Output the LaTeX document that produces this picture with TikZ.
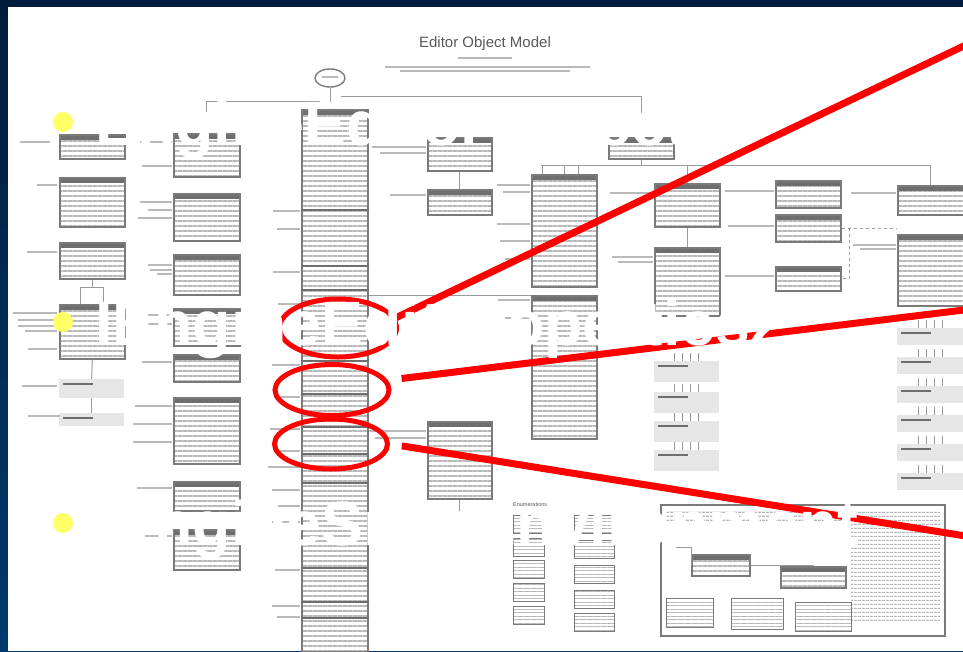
\documentclass[tikz,border=0pt]{standalone}
\usepackage{fontspec}
\setmainfont{Liberation Sans}
\usetikzlibrary{shapes.geometric, patterns.meta, positioning, calc}
\definecolor{SlideNavyTop}{HTML}{001C3C}
\definecolor{SlideNavyBottom}{HTML}{003A6C}
\definecolor{BulletYellow}{HTML}{FFFF66}
\definecolor{AlertRed}{HTML}{FF0000}
\definecolor{FrameGray}{HTML}{7A7A7A}
\definecolor{StripeGray}{HTML}{B8B8B8}
\definecolor{HeadGray}{HTML}{6E6E6E}
\definecolor{NoteGray}{HTML}{E6E6E6}
\definecolor{WireGray}{HTML}{9A9A9A}
\tikzset{
    classbox/.style={
        draw=FrameGray,
        line width=1.6pt,
        anchor=north west,
        inner sep=0pt,
        preaction={fill=white},
        pattern={Lines[angle=0,distance=5pt,line width=1.4pt]},
        pattern color=StripeGray,
        path picture={\fill[HeadGray] (path picture bounding box.north west) rectangle ([yshift=-5pt]path picture bounding box.north east);}
    },
    notebox/.style={
        fill=NoteGray,
        anchor=north west,
        inner sep=0pt,
        path picture={\draw[HeadGray, line width=1.5pt] ([shift={(4pt,-5pt)}]path picture bounding box.north west) -- ++(30pt,0pt);}
    },
    enumbox/.style={
        draw=FrameGray,
        line width=0.8pt,
        anchor=north west,
        inner sep=0pt,
        pattern={Lines[angle=0,distance=3.5pt,line width=1pt]},
        pattern color=StripeGray
    },
    textblock/.style={
        anchor=north west,
        inner sep=0pt,
        pattern={Lines[angle=0,distance=4pt,line width=1.2pt]},
        pattern color=StripeGray
    },
    smudge/.style={
        draw=gray!55,
        line width=2pt
    },
    divider/.style={
        draw=HeadGray,
        line width=2pt
    },
    wire/.style={
        draw=WireGray,
        line width=1pt
    },
    ring/.style={
        ellipse,
        draw=AlertRed,
        line width=5pt,
        inner sep=0pt
    },
    pointer/.style={
        draw=AlertRed,
        line width=7pt
    },
    dot/.style={
        circle,
        fill=BulletYellow,
        minimum size=20pt,
        inner sep=0pt
    },
    bullettext/.style={
        text=white,
        font=\fontsize{62.7}{70}\selectfont\bfseries,
        anchor=base west,
        inner sep=0pt
    }
}
\begin{document}
\begin{tikzpicture}[x=1pt, y=-1pt]
        \useasboundingbox (0,0) rectangle (963,651);
        % Slide backdrop
        \shade[top color=SlideNavyTop, bottom color=SlideNavyBottom] (0,0) rectangle (963,651);
        \fill[white] (8,7) rectangle (963,651);

        % Poster heading
        \node[font=\fontsize{15}{16}\selectfont, text=gray!70!black] (title) at (485,44) {Editor Object Model};
        \draw[smudge, line width=1.6pt] (458,58) -- (512,58);
        \draw[smudge, line width=1.2pt] (385,67) -- (590,67);
        \draw[smudge, line width=1.2pt] (400,71) -- (570,71);
        \node[ellipse, draw=FrameGray, line width=1.4pt, minimum width=30pt, minimum height=18pt, inner sep=0pt] (root) at (330,78) {};
        \draw[smudge, line width=1.5pt] (322,77) -- (338,77);

        % Class boxes
        \foreach \nm/\xx/\yy/\ww/\hh in {
            colA1/59/134/65/24, colA2/59/177/65/49, colA3/59/242/65/36, colA4/59/304/65/54,
            colB1/173/133/66/43, colB2/173/193/66/47, colB3/173/254/66/40, colB4/173/308/66/37,
            colB5/173/354/66/27, colB6/173/397/66/66, colB7/173/481/66/29, colB8/173/529/66/40,
            colC/301/109/66/542,
            colD1/427/137/64/33, colD2/427/189/64/25, colD3/427/421/64/77,
            colE1/608/137/65/21,
            colF1/531/174/65/112, colF2/531/295/65/143,
            colG1/654/183/65/43, colG2/654/247/65/68,
            colH1/775/180/65/27, colH2/775/214/65/27, colH3/775/266/65/24,
            colI1/897/185/66/29, colI2/897/234/66/71}
            \node[classbox, minimum width=\ww pt, minimum height=\hh pt] (\nm) at (\xx,\yy) {};

        % Note boxes
        \foreach \nm/\xx/\yy/\ww/\hh in {
            noteA5/59/379/65/19, noteA6/59/413/65/13,
            noteG3/654/361/65/21, noteG4/654/392/65/21, noteG5/654/421/65/21, noteG6/654/450/65/21,
            noteI3/897/328/66/17, noteI4/897/357/66/17, noteI5/897/386/66/17,
            noteI6/897/415/66/17, noteI7/897/444/66/17, noteI8/897/473/66/17}
            \node[notebox, minimum width=\ww pt, minimum height=\hh pt] (\nm) at (\xx,\yy) {};

        % Main column sections
        \foreach \yy in {210,266,290,361,394,427,454,483,568,602,618}
            \draw[divider] (colC.west |- 0,\yy) -- (colC.east |- 0,\yy);

        % Member labels
        \foreach \xa/\xb/\yy in {
            20/50/142, 37/57/185, 27/57/252, 13/57/313, 18/57/320, 18/57/326, 25/57/331, 28/57/349,
            22/57/386, 28/60/416,
            140/172/142, 142/172/166, 140/172/202, 148/172/210, 138/172/218, 148/172/265, 150/172/270,
            157/172/274, 148/172/315, 143/172/324, 142/172/362, 135/172/406, 133/172/424, 133/172/442,
            137/172/488, 145/172/536,
            273/300/211, 277/300/229, 273/300/272, 278/300/304, 272/300/365, 274/300/397, 270/300/429,
            276/300/451, 268/300/467, 272/300/490, 278/300/506, 272/300/522, 275/300/570, 272/300/606,
            277/300/617,
            372/426/147, 380/426/153, 390/426/195, 369/426/431, 375/426/438,
            497/530/185, 503/530/192, 497/530/224, 500/530/241, 505/530/259, 498/530/300, 505/530/318,
            610/653/193, 612/653/257, 618/653/262,
            725/774/191, 728/774/226, 725/774/276,
            851/896/193, 853/896/245, 860/896/249}
            \draw[smudge] (\xa,\yy) -- (\xb,\yy);

        % Hierarchy wires
        \coordinate (forkL) at (320,101);
        \coordinate (forkR) at (341,96);
        \coordinate (busL) at (541,165);
        \draw[wire] (root.south) -- (colC.north -| root.south);
        \draw[wire] (colB1.north) |- (forkL);
        \draw[wire] (forkR) -| (colE1.north);
        \draw[wire] (colE1.south) -- (colE1.south |- busL);
        \draw[wire] (busL) -| (colI1.north);
        \draw[wire] (colG1.north |- busL) -- (colG1.north);
        \foreach \dx in {-22,0,14}
            \draw[wire] ([xshift=\dx pt]colF1.north) -- ++(0,-9);
        \draw[wire] (colG1.south) -- (colG2.north);
        \draw[wire] (colD1.south) -- (colD2.north);
        \draw[wire] (colD3.south) -- ++(0,17);
        \draw[wire] (colC.east |- colF2.north) -- (colF2.north west);
        \draw[wire] (colA3.south) ++(0,8) -| ([xshift=-12pt]colA4.north);
        \draw[wire] (colA3.south) -- ++(0,8) -| ([xshift=11pt]colA4.north);
        \draw[wire] (colA4.south) -- (noteA5.north);
        \draw[wire] (noteA5.south) -- (noteA6.north);
        \draw[wire, dashed] ([xshift=8pt]colH2.east) |- (colH3.east);
        \draw[wire, dashed] (colH2.east) -- (colH2.east -| colI1.west);
        \foreach \nm in {noteG3,noteG4,noteG5,noteG6,noteI3,noteI4,noteI5,noteI6,noteI7,noteI8}
            \foreach \dx in {-12,-4,4,12}
                \draw[wire] ([xshift=\dx pt]\nm.north) -- ++(0,-8);

        % Enumerations
        \node[font=\fontsize{5.5}{6}\selectfont, text=gray!70!black, anchor=west, inner sep=0pt] (enumTitle) at (513,505) {Enumerations};
        \foreach \nm/\xx/\yy/\ww in {
            enumA1/513/515/31, enumA2/513/538/31, enumA3/513/560/31, enumA4/513/583/31, enumA5/513/606/31,
            enumB1/574/515/40, enumB2/574/540/40, enumB3/574/565/40, enumB4/574/590/40, enumB5/574/613/40}
            \node[enumbox, minimum width=\ww pt, minimum height=18pt] (\nm) at (\xx,\yy) {};

        % Legend panel
        \node[draw=FrameGray, line width=1.6pt, anchor=north west, minimum width=284pt, minimum height=131pt, inner sep=0pt] (legend) at (660,504) {};
        \node[textblock, minimum width=180pt, minimum height=10pt] (legendHead) at (666,510) {};
        \node[textblock, minimum width=89pt, minimum height=112pt] (legendText) at (851,510) {};
        \node[classbox, minimum width=58pt, minimum height=21pt] (legendBoxA) at (691,554) {};
        \node[classbox, minimum width=65pt, minimum height=21pt] (legendBoxB) at (780,566) {};
        \draw[wire] (legendBoxA.east) -| (legendBoxB.north);
        \draw[wire] (legendHead.south west) ++(10,26) -| (legendBoxA.west);
        \node[enumbox, minimum width=47pt, minimum height=29pt] (legendKeyA) at (666,598) {};
        \node[enumbox, minimum width=52pt, minimum height=31pt] (legendKeyB) at (731,598) {};
        \node[enumbox, minimum width=56pt, minimum height=29pt] (legendKeyC) at (795,602) {};

        % Callout rings
        \node[ring, minimum width=117pt, minimum height=58pt] (ringA) at (338,328) {};
        \node[ring, minimum width=114pt, minimum height=51pt] (ringB) at (332,390) {};
        \node[ring, minimum width=113pt, minimum height=50pt] (ringC) at (331,444) {};
        \coordinate (tipA) at (972,42);
        \coordinate (tipB) at (972,309);
        \coordinate (tipC) at (972,537);
        \draw[pointer] (ringA.10) -- (tipA);
        \draw[pointer, shorten <=14pt] (ringB.10) -- (tipB);
        \draw[pointer, shorten <=12pt] (ringC.east) -- (tipC);

        % Bullet list
        \node[dot] (dotA) at (63,122) {};
        \node[dot] (dotB) at (63,322) {};
        \node[dot] (dotC) at (63,523) {};
        \node[bullettext] (itemA) at (95,145) {EngineEditor object};
        \node[bullettext] (itemB) at (95,345) {IEngineEditProperties2};
        \node[bullettext] (itemC) at (95,545) {IEngineSnapEnvironment};
    \end{tikzpicture}
\end{document}
